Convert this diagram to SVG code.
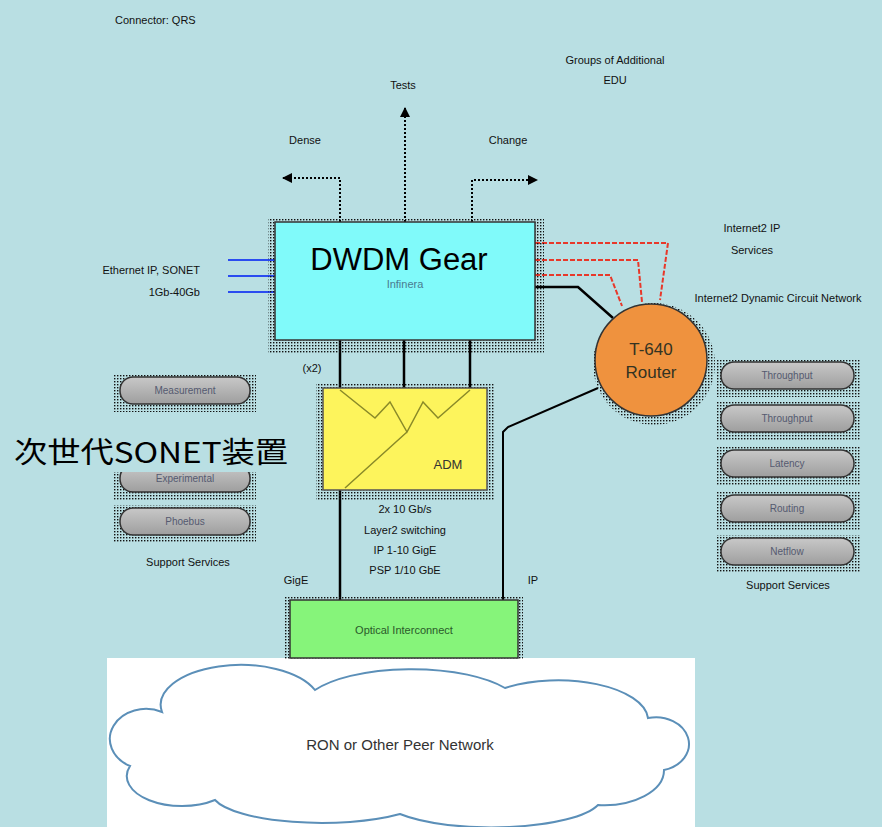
<svg xmlns="http://www.w3.org/2000/svg" width="882" height="827" viewBox="0 0 882 827">
<defs>
<pattern id="dots" width="3" height="3" patternUnits="userSpaceOnUse"><rect width="1.4" height="1.4" fill="#111"/></pattern>
<linearGradient id="pillg" x1="0" y1="0" x2="0" y2="1"><stop offset="0" stop-color="#c8c8c8"/><stop offset="1" stop-color="#9e9e9e"/></linearGradient>
<marker id="arr" viewBox="0 0 10 10" refX="9" refY="5" markerWidth="5" markerHeight="5" orient="auto-start-reverse"><path d="M0,0 L10,5 L0,10 Z" fill="#000"/></marker>
<style>
.sm{font-family:"Liberation Sans",Arial,sans-serif;font-size:11px;fill:#111}
.pill rect.p{fill:url(#pillg);stroke:#333;stroke-width:1.5}
.pill rect.s{fill:url(#dots)}
.pill text{font-family:"Liberation Sans",Arial,sans-serif;font-size:10px;fill:#555a70;text-anchor:middle}
.shadow{fill:url(#dots)}
.conn{fill:none;stroke:#000;stroke-width:2.5}
.dot{fill:none;stroke:#000;stroke-width:2;stroke-dasharray:2 2}
.red{fill:none;stroke:#e8382a;stroke-width:2;stroke-dasharray:5 2}
.blue{fill:none;stroke:#2a4cf0;stroke-width:2}
</style>
</defs>
<rect width="882" height="827" fill="#b9dfe3"/>

<!-- free texts -->
<text class="sm" x="115" y="24">Connector: QRS</text>
<text class="sm" x="615" y="64" text-anchor="middle">Groups of Additional</text>
<text class="sm" x="615" y="84" text-anchor="middle">EDU</text>
<text class="sm" x="403" y="89" text-anchor="middle">Tests</text>
<text class="sm" x="305" y="144" text-anchor="middle">Dense</text>
<text class="sm" x="508" y="144" text-anchor="middle">Change</text>
<text class="sm" x="200" y="274" text-anchor="end">Ethernet IP, SONET</text>
<text class="sm" x="200" y="296" text-anchor="end">1Gb-40Gb</text>
<text class="sm" x="752" y="232" text-anchor="middle">Internet2 IP</text>
<text class="sm" x="752" y="254" text-anchor="middle">Services</text>
<text class="sm" x="778" y="302" text-anchor="middle">Internet2 Dynamic Circuit Network</text>
<text class="sm" x="312" y="372" text-anchor="middle">(x2)</text>
<text class="sm" x="405" y="513" text-anchor="middle">2x 10 Gb/s</text>
<text class="sm" x="405" y="534" text-anchor="middle">Layer2 switching</text>
<text class="sm" x="405" y="554" text-anchor="middle">IP 1-10 GigE</text>
<text class="sm" x="405" y="574" text-anchor="middle">PSP 1/10 GbE</text>
<text class="sm" x="296" y="584" text-anchor="middle">GigE</text>
<text class="sm" x="533" y="584" text-anchor="middle">IP</text>
<text class="sm" x="188" y="566" text-anchor="middle">Support Services</text>
<text class="sm" x="788" y="589" text-anchor="middle">Support Services</text>

<!-- cloud area -->
<g id="cloud">
<rect x="107" y="658" width="588" height="169" fill="#fff"/>
<path d="M162,712 A80 40 0 0 1 315,690 A110 40 0 0 1 505,688 A90 40 0 0 1 648,718 A32 26 0 0 1 664,770 A60 35 0 0 1 598,805 A110 30 0 0 1 400,814 A110 30 0 0 1 215,800 A55 30 0 0 1 130,766 A36 30 0 0 1 162,712 Z" fill="#fff" stroke="#5b8fb8" stroke-width="2"/>
<text x="400" y="750" text-anchor="middle" font-family="Liberation Sans, Arial, sans-serif" font-size="15" fill="#333">RON or Other Peer Network</text>
</g>

<!-- connectors -->
<g id="connectors">
<path class="dot" d="M405,222 V108" marker-end="url(#arr)"/>
<path class="dot" d="M340,222 V178 H283" marker-end="url(#arr)"/>
<path class="dot" d="M472,222 V180 H537" marker-end="url(#arr)"/>
<path class="blue" d="M228,260 H275 M228,276 H275 M228,292 H275"/>
<path class="red" d="M535,243 H668 L660,300"/>
<path class="red" d="M535,260 H638 L642,302"/>
<path class="red" d="M535,275 H610 L622,306"/>
<path class="conn" d="M535,287 H578 L613,318"/>
<path class="conn" d="M340,340 V388 M404,340 V388 M470,340 V388"/>
<path class="conn" d="M340,490 V600"/>
<path class="conn" style="stroke-width:2" d="M598,388 L508,427 L503,432 V600"/>
</g>

<!-- DWDM -->
<g id="dwdm">
<rect class="shadow" x="268" y="218" width="276" height="135"/>
<rect x="275" y="222" width="260" height="118" fill="#80fafa" stroke="#333" stroke-width="1.5"/>
<text x="399" y="270" text-anchor="middle" font-family="Liberation Sans, Arial, sans-serif" font-size="31" fill="#000">DWDM Gear</text>
<text x="405" y="288" text-anchor="middle" font-family="Liberation Sans, Arial, sans-serif" font-size="11" fill="#4a7a90">Infinera</text>
</g>

<!-- Router -->
<g id="router">
<circle class="shadow" cx="654" cy="364" r="61"/>
<circle cx="651" cy="360" r="56" fill="#ef923e" stroke="#333" stroke-width="1.5"/>
<text x="651" y="355" text-anchor="middle" font-family="Liberation Sans, Arial, sans-serif" font-size="17" fill="#332">T-640</text>
<text x="651" y="378" text-anchor="middle" font-family="Liberation Sans, Arial, sans-serif" font-size="17" fill="#332">Router</text>
</g>

<!-- ADM -->
<g id="adm">
<rect class="shadow" x="316" y="384" width="178" height="116"/>
<rect x="323" y="388" width="164" height="102" fill="#fdf45c" stroke="#555" stroke-width="1.5"/>
<path d="M340,390 L375,418 L390,402 L407,432 L423,402 L438,418 L470,390 M345,488 L407,432" fill="none" stroke="#8a8a28" stroke-width="1.5"/>
<text x="448" y="469" text-anchor="middle" font-family="Liberation Sans, Arial, sans-serif" font-size="13" fill="#333">ADM</text>
</g>

<!-- Optical interconnect -->
<g id="optical">
<rect class="shadow" x="285" y="597" width="238" height="63"/>
<rect x="290" y="600" width="228" height="58" fill="#86f47a" stroke="#333" stroke-width="1.5"/>
<text x="404" y="634" text-anchor="middle" font-family="Liberation Sans, Arial, sans-serif" font-size="11" fill="#2a5a2a">Optical Interconnect</text>
</g>

<!-- left pills -->
<g id="measurement" class="pill"><rect class="s" x="114" y="374" width="142" height="38"/><rect class="p" x="120" y="377" width="130" height="27" rx="13"/><text x="185" y="394">Measurement</text></g>
<g id="experimental" class="pill"><rect class="s" x="114" y="462" width="142" height="38"/><rect class="p" x="120" y="465" width="130" height="27" rx="13"/><text x="185" y="482">Experimental</text></g>
<g id="phoebus" class="pill"><rect class="s" x="114" y="505" width="142" height="38"/><rect class="p" x="120" y="508" width="130" height="27" rx="13"/><text x="185" y="525">Phoebus</text></g>

<!-- right pills -->
<g id="throughput1" class="pill"><rect class="s" x="716" y="359" width="145" height="38"/><rect class="p" x="721" y="362" width="133" height="27" rx="13"/><text x="787" y="379">Throughput</text></g>
<g id="throughput2" class="pill"><rect class="s" x="716" y="402" width="145" height="38"/><rect class="p" x="721" y="405" width="133" height="27" rx="13"/><text x="787" y="422">Throughput</text></g>
<g id="latency" class="pill"><rect class="s" x="716" y="447" width="145" height="38"/><rect class="p" x="721" y="450" width="133" height="27" rx="13"/><text x="787" y="467">Latency</text></g>
<g id="routing" class="pill"><rect class="s" x="716" y="492" width="145" height="38"/><rect class="p" x="721" y="495" width="133" height="27" rx="13"/><text x="787" y="512">Routing</text></g>
<g id="netflow" class="pill"><rect class="s" x="716" y="535" width="145" height="38"/><rect class="p" x="721" y="538" width="133" height="27" rx="13"/><text x="787" y="555">Netflow</text></g>

<!-- overlay label -->
<g id="sonet-label">
<rect x="8" y="426" width="286" height="46" fill="#b9dfe3"/>
<text x="14" y="463" font-family="Noto Sans CJK JP, Noto Sans CJK SC, sans-serif" font-size="29" textLength="274" lengthAdjust="spacingAndGlyphs" fill="#000">次世代SONET装置</text>
</g>
</svg>
